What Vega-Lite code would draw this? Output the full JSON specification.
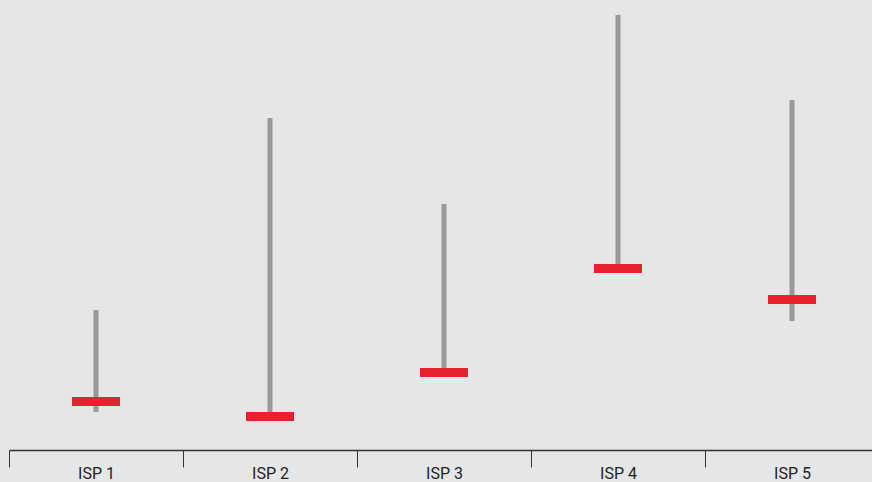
{
  "$schema": "https://vega.github.io/schema/vega-lite/v6.json",
  "width": 870,
  "height": 450,
  "autosize": {"type": "none"},
  "padding": {"left": 9, "top": 0, "right": 0, "bottom": 32},
  "background": "#e5e6e8",
  "config": {"view": {"stroke": null}, "font": "Roboto"},
  "data": {"values": [
    {"isp": "ISP 1", "low": 38, "high": 140, "mid": 48.5},
    {"isp": "ISP 2", "low": 33.5, "high": 332, "mid": 33.5},
    {"isp": "ISP 3", "low": 77.5, "high": 246, "mid": 77.5},
    {"isp": "ISP 4", "low": 181.5, "high": 435, "mid": 181.5},
    {"isp": "ISP 5", "low": 129, "high": 350, "mid": 150.5}
  ]},
  "encoding": {
    "x": {"field": "isp", "type": "nominal", "sort": null, "title": null,
      "scale": {"paddingInner": 0, "paddingOuter": 0},
      "axis": {"tickBand": "extent", "domainColor": "#333333", "domainWidth": 1.5, "tickColor": "#333333", "tickWidth": 1, "tickSize": 17, "labelAngle": 0, "labelFontSize": 16, "labelColor": "#222222", "labelPadding": -2, "labelFont": "Roboto"}}
  },
  "layer": [
    {"mark": {"type": "rule", "color": "#999999", "strokeWidth": 5},
     "encoding": {
       "y": {"field": "low", "type": "quantitative", "scale": {"domain": [0, 450], "nice": false}, "axis": null},
       "y2": {"field": "high"}
     }},
    {"mark": {"type": "tick", "color": "#e8212f", "size": 48, "thickness": 9, "opacity": 1},
     "encoding": {
       "y": {"field": "mid", "type": "quantitative"}
     }}
  ]
}
